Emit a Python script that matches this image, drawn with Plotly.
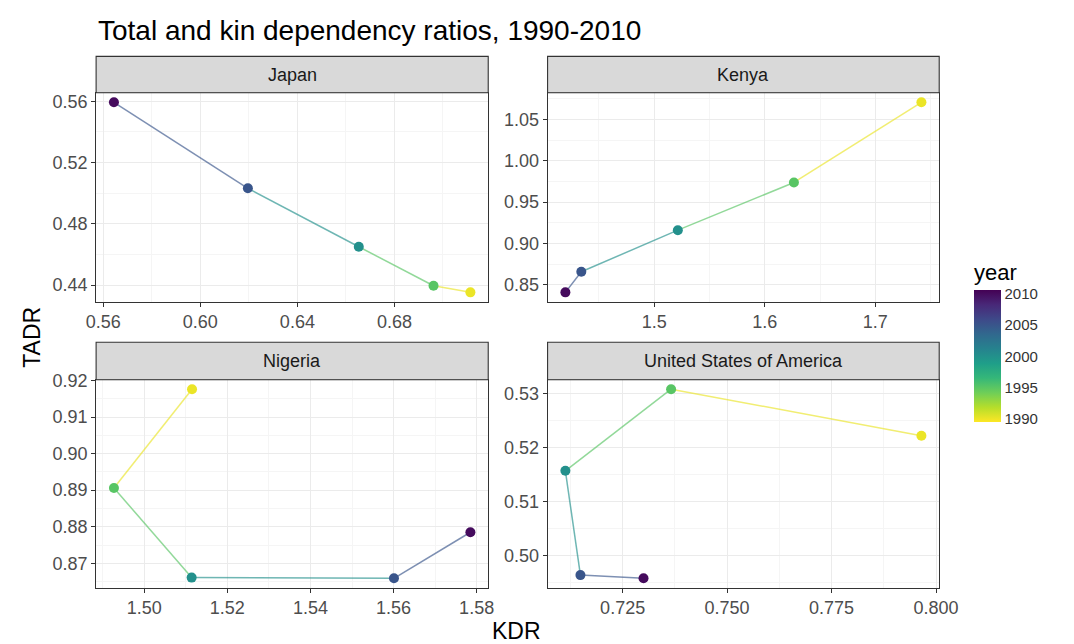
import plotly.graph_objects as go
from plotly.colors import sample_colorscale

# Kin dependency ratio (KDR) and total age dependency ratio (TADR) by country
years = [1990, 1995, 2000, 2005, 2010]

japan_kdr = [0.7113, 0.6961, 0.6653, 0.6196, 0.5644]
japan_tadr = [0.4352, 0.4395, 0.4650, 0.5032, 0.5594]

kenya_kdr = [1.7417, 1.6264, 1.5214, 1.4341, 1.4197]
kenya_tadr = [1.0707, 0.9738, 0.9161, 0.8658, 0.8409]

nigeria_kdr = [1.5115, 1.4927, 1.5114, 1.5601, 1.5785]
nigeria_tadr = [0.9176, 0.8906, 0.8661, 0.8659, 0.8785]

usa_kdr = [0.7965, 0.7366, 0.7113, 0.7149, 0.7300]
usa_tadr = [0.5222, 0.5308, 0.5157, 0.4964, 0.4958]

countries = ["Japan", "Kenya", "Nigeria", "United States of America"]
kdr = [japan_kdr, kenya_kdr, nigeria_kdr, usa_kdr]
tadr = [japan_tadr, kenya_tadr, nigeria_tadr, usa_tadr]

# axis tick spacing and label format per panel: (x dtick, x fmt, y dtick, y fmt)
tick_specs = [
    (0.04, ".2f", 0.04, ".2f"),
    (0.1, ".1f", 0.05, ".2f"),
    (0.02, ".2f", 0.01, ".2f"),
    (0.025, ".3f", 0.01, ".2f"),
]

W, H = 1074, 644
FONT = "Liberation Sans, Arial, Helvetica, sans-serif"
SCALE = "Viridis_r"
CMIN, CMAX = 1989.4, 2010.6

# panel boxes in pixels: (left, right) and (plot top, plot bottom, strip top)
cols = [(88.5, 491.5), (552.5, 955.0)]
rows = [(85.0, 297.0, 48.0), (376.0, 587.0, 338.0)]


def px_x(v):
    return v / W


def px_y(v):
    return 1 - v / H


def year_color(y):
    return sample_colorscale(SCALE, [(y - CMIN) / (CMAX - CMIN)])[0]


def expanded(vals, frac=0.05):
    lo, hi = min(vals), max(vals)
    pad = (hi - lo) * frac
    return [lo - pad, hi + pad]


fig = go.Figure()
layout = {}
shapes = []
annotations = []

for i, name in enumerate(countries):
    r, c = divmod(i, 2)
    left, right = cols[c]
    top, bottom, strip_top = rows[r]
    xa = "xaxis" if i == 0 else f"xaxis{i + 1}"
    ya = "yaxis" if i == 0 else f"yaxis{i + 1}"
    xref = "x" if i == 0 else f"x{i + 1}"
    yref = "y" if i == 0 else f"y{i + 1}"
    xd, xf, yd, yf = tick_specs[i]

    common = dict(
        showline=True, mirror=True, linecolor="#333333", linewidth=1.1,
        ticks="outside", ticklen=4, tickwidth=1.1, tickcolor="#333333",
        tickfont=dict(family=FONT, size=18, color="#4D4D4D"),
        showgrid=True, gridcolor="#EBEBEB", gridwidth=1.2, zeroline=False,
        tick0=0,
    )
    layout[xa] = dict(
        common, domain=[px_x(left), px_x(right)], anchor=yref,
        range=expanded(kdr[i]), dtick=xd, tickformat=xf,
        minor=dict(dtick=xd / 2, tick0=0, showgrid=True,
                   gridcolor="#F5F5F5", gridwidth=0.7),
    )
    layout[ya] = dict(
        common, domain=[px_y(bottom), px_y(top)], anchor=xref,
        range=expanded(tadr[i]), dtick=yd, tickformat=yf,
        minor=dict(dtick=yd / 2, tick0=0, showgrid=True,
                   gridcolor="#F5F5F5", gridwidth=0.7),
    )

    # path segments, each coloured by the year it starts from
    for k in range(len(years) - 1):
        fig.add_trace(go.Scatter(
            x=kdr[i][k:k + 2], y=tadr[i][k:k + 2], mode="lines",
            line=dict(color=year_color(years[k]), width=1.5),
            opacity=0.65, xaxis=xref, yaxis=yref,
            showlegend=False, hoverinfo="skip",
        ))
    fig.add_trace(go.Scatter(
        x=kdr[i], y=tadr[i], mode="markers",
        marker=dict(size=10, color=years, coloraxis="coloraxis",
                    line=dict(width=0)),
        xaxis=xref, yaxis=yref, showlegend=False,
    ))

    # facet strip
    shapes.append(dict(
        type="rect", xref="paper", yref="paper",
        x0=px_x(left), x1=px_x(right), y0=px_y(top), y1=px_y(strip_top),
        fillcolor="#D9D9D9", line=dict(color="#333333", width=1.1),
        layer="above",
    ))
    annotations.append(dict(
        text=name, xref="paper", yref="paper",
        x=px_x((left + right) / 2), y=px_y((top + strip_top) / 2),
        xanchor="center", yanchor="middle", showarrow=False,
        font=dict(family=FONT, size=18, color="#1A1A1A"),
    ))

annotations += [
    dict(text="Total and kin dependency ratios, 1990-2010",
         xref="paper", yref="paper", x=px_x(88), y=px_y(22),
         xanchor="left", yanchor="middle", showarrow=False,
         font=dict(family=FONT, size=28, color="#000000")),
    dict(text="TADR", xref="paper", yref="paper", x=px_x(23), y=px_y(333),
         xanchor="center", yanchor="middle", textangle=-90, showarrow=False,
         font=dict(family=FONT, size=23, color="#000000")),
    dict(text="KDR", xref="paper", yref="paper", x=px_x(521), y=px_y(631),
         xanchor="center", yanchor="middle", showarrow=False,
         font=dict(family=FONT, size=23, color="#000000")),
]

fig.update_layout(
    width=W, height=H,
    margin=dict(l=0, r=0, t=0, b=0),
    paper_bgcolor="white", plot_bgcolor="white",
    font=dict(family=FONT),
    shapes=shapes, annotations=annotations,
    coloraxis=dict(
        colorscale=SCALE, cmin=CMIN, cmax=CMAX,
        colorbar=dict(
            x=px_x(990.7), xanchor="left", y=px_y(337), yanchor="middle",
            thickness=27, thicknessmode="pixels",
            len=162, lenmode="pixels",
            outlinewidth=0, ticks="", tickvals=[1990, 1995, 2000, 2005, 2010],
            tickfont=dict(family=FONT, size=15, color="#333333"),
            title=dict(text="year", side="top",
                       font=dict(family=FONT, size=22, color="#000000")),
            xpad=0, ypad=0,
        ),
    ),
    **layout,
)

fig.write_html("out.html")
